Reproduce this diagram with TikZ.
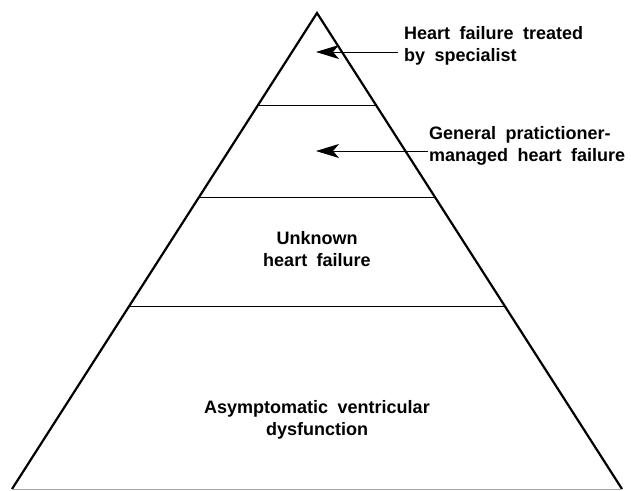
\documentclass[tikz,border=0pt]{standalone}
\usepackage{fontspec}
\setmainfont[WordSpace=1.9]{Liberation Sans}
\usetikzlibrary{arrows.meta}
\begin{document}
\begin{tikzpicture}[x=1pt,y=-1pt,
  edge/.style={line width=2.2pt, line join=miter},
  tier/.style={line width=1pt},
  lbl/.style={font=\bfseries\fontsize{18}{22}\selectfont, inner sep=0pt},
  pointer/.style={line width=1pt, -{Stealth[length=23pt,width=14pt,inset=6pt]}}]
\useasboundingbox (0,0) rectangle (631,490);
\coordinate (apex) at (317,13);
\coordinate (bl) at (12,489);
\coordinate (br) at (622,489);
\draw[edge] (bl) -- (apex) -- (br);
\draw[gray!70, line width=1pt] (bl) -- (br);
% tier lines
\path (apex) -- (bl) coordinate[pos=0.1933] (l1);
\path (apex) -- (br) coordinate[pos=0.1933] (r1);
\path (apex) -- (bl) coordinate[pos=0.3866] (l2);
\path (apex) -- (br) coordinate[pos=0.3866] (r2);
\path (apex) -- (bl) coordinate[pos=0.6176] (l3);
\path (apex) -- (br) coordinate[pos=0.6176] (r3);
\draw[tier] (l1) -- (r1);
\draw[tier] (l2) -- (r2);
\draw[tier] (l3) -- (r3);
% labels
\node[lbl, anchor=west, align=left] (spec) at (404,46) {Heart failure treated\\by specialist};
\node[lbl, anchor=west, align=left] (gp) at (429,146) {General pratictioner-\\managed heart failure};
\node[lbl, align=center] (unk) at (317,249) {Unknown\\heart failure};
\node[lbl, align=center] (asym) at (317,420) {Asymptomatic ventricular\\dysfunction};
% arrows
\coordinate (t1) at (316,52);
\coordinate (t2) at (316,151);
\draw[pointer] (spec.west |- t1) ++(-6,0) -- (t1);
\draw[pointer] (gp.west |- t2) ++(-1,0) -- (t2);
\end{tikzpicture}
\end{document}
